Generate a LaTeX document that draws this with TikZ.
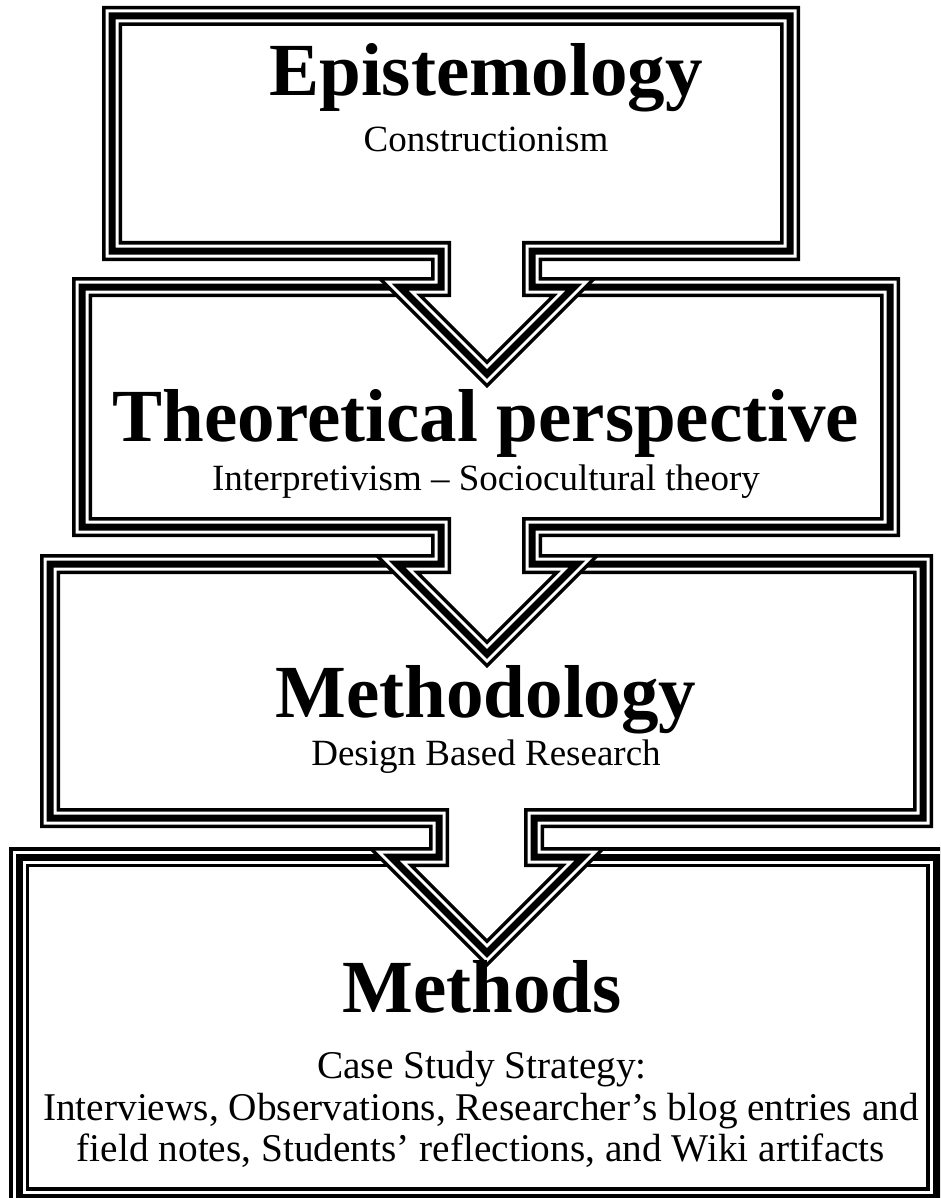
\documentclass[tikz,border=0pt]{standalone}
\usepackage{fontspec}
\setmainfont{Liberation Serif}
\begin{document}
\begin{tikzpicture}[x=1pt,y=-1pt,
  triple/.style={line width=20pt, draw=black, fill=white, line join=miter,
    postaction={draw=white, line width=13pt, line join=miter},
    postaction={draw=black, line width=7pt, line join=miter}},
  head/.style={font=\fontsize{75}{80}\selectfont\bfseries, anchor=base, inner sep=0pt},
  sub/.style={font=\fontsize{37}{42}\selectfont, anchor=base, inner sep=0pt},
  subb/.style={font=\fontsize{39.3}{44}\selectfont, anchor=base, inner sep=0pt}]
\useasboundingbox (0,0) rectangle (940,1198);
\clip (0,0) rectangle (940,1198);
% box 4 (Methods)
\path[triple] (19,857) rectangle (936,1197);
% callout 3 (Methodology)
\path[triple] (50,564) -- (923,564) -- (923,818) -- (534,818) -- (534,857) -- (583,857)
  -- (487,953) -- (391,857) -- (439,857) -- (439,818) -- (50,818) -- cycle;
% callout 2 (Theoretical perspective)
\path[triple] (82,287) -- (890,287) -- (890,527) -- (532,527) -- (532,564) -- (577,564)
  -- (487,654) -- (397,564) -- (441,564) -- (441,527) -- (82,527) -- cycle;
% callout 1 (Epistemology)
\path[triple] (112,16) -- (790,16) -- (790,251) -- (532,251) -- (532,287) -- (574,287)
  -- (487,374) -- (400,287) -- (441,287) -- (441,251) -- (112,251) -- cycle;
% texts
\node[head] (t1) at (486,96) {Epistemology};
\node[sub] (s1) at (486,152) {Constructionism};
\node[head] (t2) at (486,441) {Theoretical perspective};
\node[sub] (s2) at (486,490) {Interpretivism – Sociocultural theory};
\node[head] (t3) at (486,717) {Methodology};
\node[sub] (s3) at (486,765) {Design Based Research};
\node[head] (t4) at (482,1012) {Methods};
\node[subb] (s4a) at (482,1078) {Case Study Strategy:};
\node[subb] (s4b) at (481,1120) {Interviews, Observations, Researcher’s blog entries and};
\node[subb] (s4c) at (481,1161) {field notes, Students’ reflections, and Wiki artifacts};
\end{tikzpicture}
\end{document}
